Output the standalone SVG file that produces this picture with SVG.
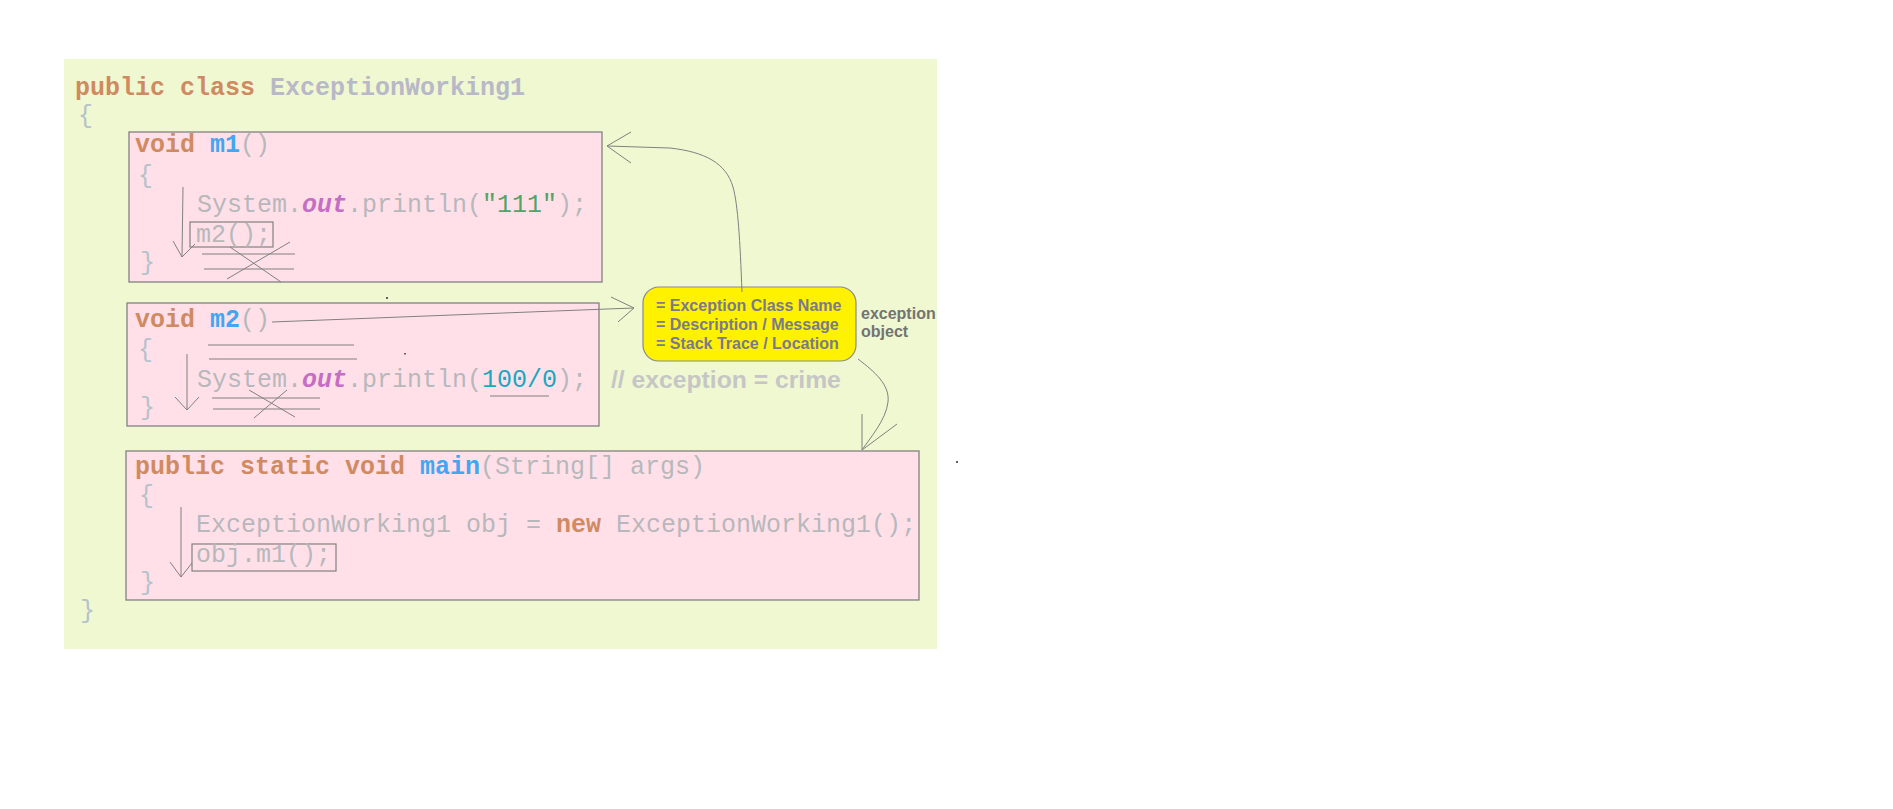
<svg xmlns="http://www.w3.org/2000/svg" width="1893" height="809" viewBox="0 0 1893 809">
<style>
.code{font-family:"Liberation Mono","Courier New",monospace;font-size:25px;fill:#b6b8bc}
.kw{fill:#d08a62;font-weight:bold}
.fn{fill:#42a6f2;font-weight:bold}
.cls{fill:#b8b8c8;font-weight:bold}
.br{fill:#b4c2cc}
.out{fill:#c46ec4;font-style:italic;font-weight:bold}
.str{fill:#52a466}
.num{fill:#1aa8c0}
.box{fill:#ffe0e8;stroke:#808080;stroke-width:1.3}
.ln{fill:none;stroke:#808080;stroke-width:1}
.sans{font-family:"Liberation Sans",Arial,sans-serif;font-weight:bold}
</style>
<rect x="0" y="0" width="1893" height="809" fill="#ffffff"/>
<g id="class-panel">
<rect x="64" y="59" width="873" height="590" fill="#eff8d0"/>
<text class="code" x="75" y="95" xml:space="preserve"><tspan class="kw">public class </tspan><tspan class="cls">ExceptionWorking1</tspan></text>
<text class="code br" x="78" y="123">{</text>
<text class="code br" x="80" y="618">}</text>
</g>
<g id="m1">
<rect class="box" x="129" y="132" width="473" height="150"/>
<text class="code" x="135" y="152" xml:space="preserve"><tspan class="kw">void </tspan><tspan class="fn">m1</tspan>()</text>
<text class="code br" x="138" y="183">{</text>
<text class="code" x="197" y="212" xml:space="preserve">System.<tspan class="out">out</tspan>.println(<tspan class="str">"111"</tspan>);</text>
<rect x="190" y="222" width="83" height="25" fill="none" stroke="#808080" stroke-width="1.2"/>
<text class="code" x="196" y="242">m2();</text>
<text class="code br" x="140" y="270">}</text>
<path class="ln" d="M183,187 L182,257 M173,241 L182,257 L195,244"/>
<path class="ln" d="M202,254 L295,254 M204,269 L294,269 M230,247 L281,282 M227,279 L290,242"/>
</g>
<g id="m2">
<rect class="box" x="127" y="303" width="472" height="123"/>
<text class="code" x="135" y="327" xml:space="preserve"><tspan class="kw">void </tspan><tspan class="fn">m2</tspan>()</text>
<text class="code br" x="138" y="357">{</text>
<text class="code" x="197" y="387" xml:space="preserve">System.<tspan class="out">out</tspan>.println(<tspan class="num">100/0</tspan>);</text>
<text class="code br" x="140" y="415">}</text>
<path class="ln" d="M208,345 L354,345 M209,359 L357,359 M490,396 L549,396"/>
<path class="ln" d="M187,354 L187,410 M175,397 L187,410 L199,397"/>
<path class="ln" d="M212,398 L320,398 M213,409 L320,409 M249,390 L295,417 M254,418 L287,390"/>
</g>
<g id="main">
<rect class="box" x="126" y="451" width="793" height="149"/>
<text class="code" x="135" y="474" xml:space="preserve"><tspan class="kw">public static void </tspan><tspan class="fn">main</tspan>(String[] args)</text>
<text class="code br" x="139" y="503">{</text>
<text class="code" x="196" y="532" xml:space="preserve">ExceptionWorking1 obj = <tspan class="kw">new</tspan> ExceptionWorking1();</text>
<rect x="192" y="544" width="144" height="27" fill="none" stroke="#808080" stroke-width="1.2"/>
<text class="code" x="196" y="562">obj.m1();</text>
<text class="code br" x="140" y="590">}</text>
<path class="ln" d="M181,507 L181,577 M170,562 L181,577 L192,563"/>
</g>
<g id="exception-object">
<rect x="643" y="287" width="213" height="74" rx="16" ry="16" fill="#fff200" stroke="#8a8a8a" stroke-width="1.2"/>
<text class="sans" x="656" y="311" font-size="16" fill="#7a7a8c">= Exception Class Name</text>
<text class="sans" x="656" y="330" font-size="16" fill="#7a7a8c">= Description / Message</text>
<text class="sans" x="656" y="349" font-size="16" fill="#7a7a8c">= Stack Trace / Location</text>
<text class="sans" x="861" y="319" font-size="16" fill="#737373">exception</text>
<text class="sans" x="861" y="337" font-size="16" fill="#737373">object</text>
</g>
<g id="comment">
<text class="sans" x="611" y="388" font-size="24.7" fill="#c6c6c6">// exception = crime</text>
</g>
<g id="connectors">
<path class="ln" d="M742,292 C740,240 738,205 733,187 C726,163 705,152 670,148 L607,146"/>
<path class="ln" d="M631,132 L607,146 L631,163"/>
<path class="ln" d="M272,322 L607,309 L634,308"/>
<path class="ln" d="M611,297 L634,308 L618,322"/>
<path class="ln" d="M858,359 C875,372 890,385 888,402 C886,420 870,438 862,450"/>
<path class="ln" d="M862,414 L862,450 L897,424"/>
</g>
<g id="dots" fill="#606060">
<rect x="386" y="297" width="2" height="2"/>
<rect x="404" y="353" width="2" height="1.5"/>
<rect x="956" y="461" width="2" height="2"/>
</g>
</svg>
